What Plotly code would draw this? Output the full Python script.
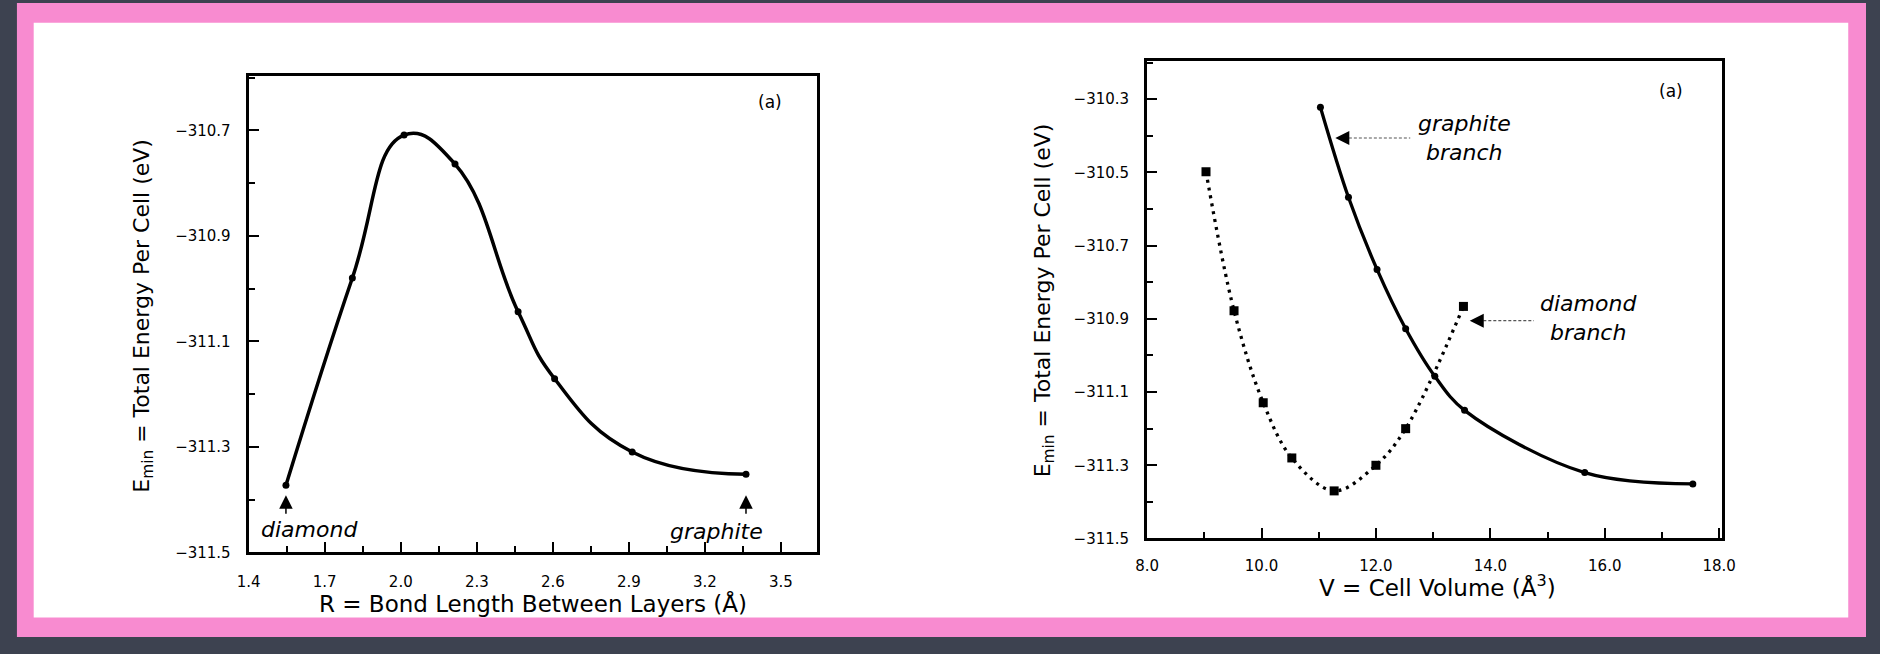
import plotly.graph_objects as go

W, H = 1880, 654

# ---------------- data ----------------
# Left panel: E_min vs bond length between layers
r_bond = [1.547, 1.809, 2.013, 2.214, 2.463, 2.607, 2.913, 3.362]
e_bond = [-311.373, -310.980, -310.709, -310.764, -311.044, -311.171, -311.310, -311.352]

# Right panel: graphite branch (solid)
v_graphite = [11.03, 11.52, 12.02, 12.52, 13.03, 13.55, 15.65, 17.54]
e_graphite = [-310.322, -310.568, -310.765, -310.927, -311.057, -311.150, -311.320, -311.351]

# Right panel: diamond branch (dotted)
v_diamond = [9.03, 9.52, 10.03, 10.53, 11.27, 12.00, 12.52, 13.53]
e_diamond = [-310.498, -310.878, -311.129, -311.280, -311.370, -311.300, -311.200, -310.866]

left_xticks = [1.4, 1.7, 2.0, 2.3, 2.6, 2.9, 3.2, 3.5]
left_yticks = [-310.7, -310.9, -311.1, -311.3, -311.5]
right_xticks = [8.0, 10.0, 12.0, 14.0, 16.0, 18.0]
right_yticks = [-310.3, -310.5, -310.7, -310.9, -311.1, -311.3, -311.5]

FONT = "DejaVu Sans"


def px_x(p):
    return p / W


def px_y(p):
    return 1 - p / H


fig = go.Figure()

fig.add_trace(go.Scatter(
    x=r_bond, y=e_bond, mode="lines+markers", xaxis="x", yaxis="y",
    line=dict(color="black", width=3.5, shape="spline", smoothing=1.3),
    marker=dict(symbol="circle", size=7, color="black"),
    showlegend=False))

fig.add_trace(go.Scatter(
    x=v_graphite, y=e_graphite, mode="lines+markers", xaxis="x2", yaxis="y2",
    line=dict(color="black", width=3.3, shape="spline", smoothing=1.0),
    marker=dict(symbol="circle", size=7, color="black"),
    showlegend=False))

fig.add_trace(go.Scatter(
    x=v_diamond, y=e_diamond, mode="lines+markers", xaxis="x2", yaxis="y2",
    line=dict(color="black", width=3.3, shape="spline", smoothing=1.0, dash="3px,5px"),
    marker=dict(symbol="square", size=9, color="black"),
    showlegend=False))


def axis(domain, rng, ticks, fmt, minor_dtick, anchor, standoff):
    return dict(
        domain=domain, range=rng, anchor=anchor,
        tickmode="array", tickvals=ticks, tickformat=fmt,
        showline=True, linecolor="black", linewidth=3, mirror=True,
        ticks="inside", ticklen=10, tickwidth=2, tickcolor="black",
        showgrid=False, zeroline=False,
        tickfont=dict(family=FONT, size=15, color="black"),
        ticklabelstandoff=standoff,
        minor=dict(ticks="inside", ticklen=6, tickwidth=2, tickcolor="black",
                   tick0=ticks[0], dtick=minor_dtick, showgrid=False),
    )


fig.update_layout(
    width=W, height=H,
    margin=dict(l=0, r=0, t=0, b=0),
    paper_bgcolor="#3d4250",
    plot_bgcolor="white",
    xaxis=axis([px_x(240), px_x(816)], [1.40, 3.641], left_xticks, ".1f", 0.15, "y", 14),
    yaxis=axis([px_y(560), px_y(77)], [-311.5, -310.597], left_yticks, ".1f", 0.1, "x", 12),
    xaxis2=axis([px_x(1151), px_x(1734)], [8.0, 18.05], right_xticks, ".1f", 1.0, "y2", 12),
    yaxis2=axis([px_y(546), px_y(62)], [-311.5, -310.196], right_yticks, ".1f", 0.1, "x2", 12),
)

# pink border frame and white sheet
fig.add_shape(type="rect", xref="paper", yref="paper", layer="below",
              x0=px_x(5), x1=1.0, y0=px_y(646), y1=px_y(3),
              fillcolor="#f88bd0", line=dict(width=0))
fig.add_shape(type="rect", xref="paper", yref="paper", layer="below",
              x0=px_x(22), x1=px_x(1862), y0=px_y(626), y1=px_y(23),
              fillcolor="white", line=dict(width=0))

C = dict(xanchor="center", yanchor="middle")
ann = []
# axis titles
ann.append(dict(x=px_x(528), y=px_y(612), xref="paper", yref="paper",
                text="R = Bond Length Between Layers (Å)", showarrow=False,
                font=dict(family=FONT, size=23, color="black"), **C))
ann.append(dict(x=px_x(133), y=px_y(320), xref="paper", yref="paper",
                text="E<sub>min</sub> = Total Energy Per Cell (eV)", textangle=-90,
                showarrow=False, font=dict(family=FONT, size=22, color="black"), **C))
ann.append(dict(x=px_x(1445), y=px_y(594), xref="paper", yref="paper",
                text="V = Cell Volume (Å<sup>3</sup>)", showarrow=False,
                font=dict(family=FONT, size=23, color="black"), **C))
ann.append(dict(x=px_x(1047), y=px_y(305), xref="paper", yref="paper",
                text="E<sub>min</sub> = Total Energy Per Cell (eV)", textangle=-90,
                showarrow=False, font=dict(family=FONT, size=22, color="black"), **C))

# panel tags
ann.append(dict(x=3.458, y=-310.646, xref="x", yref="y", text="(a)", showarrow=False,
                font=dict(family=FONT, size=17, color="black"), **C))
ann.append(dict(x=17.155, y=-310.277, xref="x2", yref="y2", text="(a)", showarrow=False,
                font=dict(family=FONT, size=17, color="black"), **C))

# left panel labels with up arrows
ann.append(dict(x=1.64, y=-311.457, xref="x", yref="y", text="<i>diamond</i>",
                showarrow=False, font=dict(family=FONT, size=22, color="black"), **C))
ann.append(dict(x=3.245, y=-311.46, xref="x", yref="y", text="<i>graphite</i>",
                showarrow=False, font=dict(family=FONT, size=22, color="black"), **C))
for xa in (1.547, 3.362):
    ann.append(dict(x=xa, y=-311.392, xref="x", yref="y", text="", showarrow=True,
                    ax=0, ay=20, arrowhead=2, arrowsize=1.8, arrowwidth=1.5,
                    arrowcolor="black"))

# right panel labels with left-pointing arrows
ann.append(dict(x=13.55, y=-310.406, xref="x2", yref="y2",
                text="<i>graphite</i><br><i>branch</i>", showarrow=False,
                font=dict(family=FONT, size=22, color="black"), **C))
ann.append(dict(x=15.71, y=-310.899, xref="x2", yref="y2",
                text="<i>diamond</i><br><i>branch</i>", showarrow=False,
                font=dict(family=FONT, size=22, color="black"), **C))
for xh, xt, ya in ((11.29, 12.60, -310.406), (13.64, 14.76, -310.905)):
    ann.append(dict(x=xh, y=ya, xref="x2", yref="y2", text="", showarrow=True,
                    ax=12, ay=0, arrowhead=2, arrowsize=2.0, arrowwidth=1.4,
                    arrowcolor="black"))
    fig.add_shape(type="line", xref="x2", yref="y2", x0=xh + 0.15, x1=xt,
                  y0=ya, y1=ya, line=dict(color="#555555", width=1.2, dash="3px,2px"))

fig.update_layout(annotations=ann)

fig.write_html("out.html")
